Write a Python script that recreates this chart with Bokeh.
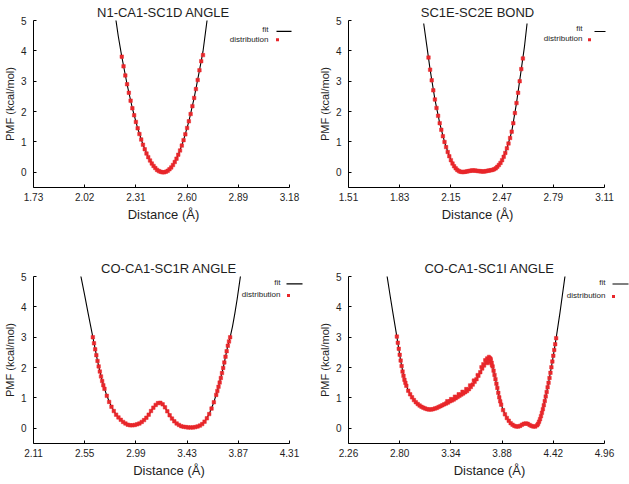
from bokeh.plotting import figure
from bokeh.layouts import column, row
from bokeh.models import Range1d, FixedTicker, Label, BoxAnnotation, PrintfTickFormatter
from bokeh.embed import file_html
from bokeh.resources import INLINE

FONT = "Liberation Sans"
RED = "#e8272b"
INK = "#1e1e1e"

# ---------------- data ----------------
titles = ["N1-CA1-SC1D ANGLE", "SC1E-SC2E BOND", "CO-CA1-SC1R ANGLE", "CO-CA1-SC1I ANGLE"]
x_label = "Distance (Å)"
y_label = "PMF (kcal/mol)"
legend_fit = "fit"
legend_dist = "distribution"
yticks = [0, 1, 2, 3, 4, 5]

xticks1 = [1.73, 2.02, 2.31, 2.60, 2.89, 3.18]
xticks2 = [1.51, 1.83, 2.15, 2.47, 2.79, 3.11]
xticks3 = [2.11, 2.55, 2.99, 3.43, 3.87, 4.31]
xticks4 = [2.26, 2.80, 3.34, 3.88, 4.42, 4.96]

# panel 1
d1_x = [2.23, 2.24, 2.25, 2.26, 2.27, 2.28, 2.29, 2.30, 2.31, 2.32, 2.33, 2.34, 2.35, 2.36, 2.37, 2.38,
        2.39, 2.40, 2.41, 2.42, 2.43, 2.44, 2.45, 2.46, 2.47, 2.48, 2.49, 2.50, 2.51, 2.52, 2.53, 2.54,
        2.55, 2.56, 2.57, 2.58, 2.59, 2.60, 2.61, 2.62, 2.63, 2.64, 2.65, 2.66, 2.67, 2.68, 2.69]
d1_y = [3.81, 3.49, 3.19, 2.90, 2.62, 2.36, 2.11, 1.88, 1.66, 1.45, 1.26, 1.08, 0.91, 0.76, 0.62, 0.50,
        0.39, 0.29, 0.21, 0.14, 0.08, 0.04, 0.02, 0.00, 0.00, 0.02, 0.05, 0.10, 0.16, 0.24, 0.34, 0.45,
        0.58, 0.72, 0.88, 1.06, 1.25, 1.46, 1.68, 1.92, 2.18, 2.45, 2.74, 3.04, 3.36, 3.66, 3.86]
f1_x = [2.196, 2.21, 2.23, 2.26, 2.29, 2.32, 2.35, 2.38, 2.41, 2.44, 2.465, 2.49, 2.52, 2.55, 2.58,
        2.61, 2.64, 2.67, 2.69, 2.714]
f1_y = [5.05, 4.49, 3.81, 2.90, 2.11, 1.45, 0.91, 0.50, 0.21, 0.04, 0.00, 0.05, 0.24, 0.58, 1.06,
        1.68, 2.45, 3.36, 3.98, 5.05]

# panel 2
d2_x = [2.01, 2.02, 2.03, 2.04, 2.05, 2.06, 2.07, 2.08, 2.09, 2.10, 2.11, 2.12, 2.13, 2.14, 2.15,
        2.16, 2.17, 2.18, 2.19, 2.20, 2.21, 2.22, 2.23, 2.24, 2.25, 2.26, 2.27, 2.28, 2.29, 2.30,
        2.31, 2.32, 2.33, 2.34, 2.35, 2.36, 2.37, 2.38, 2.39, 2.40, 2.41, 2.42, 2.43, 2.44, 2.45,
        2.46, 2.47, 2.48, 2.49, 2.50, 2.51, 2.52, 2.53, 2.54, 2.55, 2.56, 2.57, 2.58, 2.59, 2.60]
d2_y = [3.78, 3.38, 3.03, 2.70, 2.40, 2.12, 1.86, 1.62, 1.40, 1.19, 1.00, 0.83, 0.67, 0.53, 0.40,
        0.29, 0.20, 0.13, 0.08, 0.04, 0.02, 0.01, 0.01, 0.02, 0.03, 0.04, 0.05, 0.06, 0.06, 0.06,
        0.05, 0.04, 0.04, 0.03, 0.03, 0.03, 0.04, 0.05, 0.06, 0.07, 0.08, 0.10, 0.13, 0.18, 0.24,
        0.31, 0.40, 0.51, 0.64, 0.79, 0.95, 1.13, 1.34, 1.62, 1.95, 2.28, 2.62, 3.00, 3.40, 3.75]
f2_x = [1.98, 2.00, 2.02, 2.05, 2.08, 2.11, 2.14, 2.17, 2.20, 2.25, 2.30, 2.35, 2.40, 2.44, 2.47,
        2.50, 2.53, 2.56, 2.59, 2.61, 2.626]
f2_y = [4.90, 4.15, 3.38, 2.40, 1.62, 1.00, 0.53, 0.20, 0.04, 0.03, 0.06, 0.03, 0.07, 0.18, 0.40,
        0.79, 1.34, 2.28, 3.40, 4.15, 4.90]

# panel 3
d3_x = [2.62, 2.63, 2.64, 2.65, 2.66, 2.67, 2.68, 2.69, 2.70, 2.71, 2.72, 2.74, 2.76, 2.78, 2.80,
        2.82, 2.84, 2.86, 2.88, 2.90, 2.92, 2.94, 2.96, 2.98, 3.00, 3.02, 3.04, 3.06, 3.08, 3.10,
        3.12, 3.14, 3.16, 3.18, 3.20, 3.22, 3.24, 3.26, 3.28, 3.30, 3.32, 3.34, 3.36, 3.38, 3.40,
        3.42, 3.44, 3.46, 3.48, 3.50, 3.52, 3.54, 3.56, 3.58, 3.60, 3.62, 3.64, 3.66, 3.68, 3.69,
        3.70, 3.71, 3.72, 3.73, 3.74, 3.75, 3.76, 3.77, 3.78, 3.79, 3.80]
d3_y = [3.00, 2.80, 2.60, 2.41, 2.22, 2.04, 1.87, 1.71, 1.56, 1.42, 1.30, 1.07, 0.87, 0.71, 0.57,
        0.45, 0.36, 0.28, 0.21, 0.16, 0.12, 0.10, 0.10, 0.11, 0.13, 0.16, 0.21, 0.27, 0.35, 0.45,
        0.57, 0.68, 0.77, 0.83, 0.84, 0.79, 0.69, 0.56, 0.43, 0.32, 0.23, 0.16, 0.11, 0.07, 0.05,
        0.04, 0.03, 0.03, 0.03, 0.04, 0.06, 0.09, 0.14, 0.22, 0.33, 0.47, 0.65, 0.86, 1.10, 1.23,
        1.37, 1.51, 1.66, 1.82, 1.99, 2.17, 2.36, 2.54, 2.72, 2.86, 3.00]
f3_x = [2.515, 2.55, 2.58, 2.60, 2.62, 2.66, 2.70, 2.74, 2.78, 2.82, 2.86, 2.90, 2.94, 2.98, 3.02,
        3.06, 3.10, 3.14, 3.18, 3.20, 3.22, 3.26, 3.30, 3.34, 3.38, 3.42, 3.46, 3.50, 3.54, 3.58,
        3.62, 3.66, 3.70, 3.74, 3.78, 3.80, 3.82, 3.84, 3.86, 3.89]
f3_y = [5.05, 4.38, 3.78, 3.39, 3.00, 2.22, 1.56, 1.07, 0.71, 0.45, 0.28, 0.16, 0.10, 0.11, 0.16,
        0.27, 0.45, 0.68, 0.83, 0.84, 0.79, 0.56, 0.32, 0.16, 0.07, 0.04, 0.03, 0.04, 0.09, 0.22,
        0.47, 0.86, 1.37, 1.99, 2.72, 3.00, 3.35, 3.78, 4.25, 5.05]

# panel 4
d4_x = [2.77, 2.78, 2.79, 2.80, 2.81, 2.82, 2.83, 2.84, 2.85, 2.86, 2.87, 2.89, 2.91, 2.93, 2.95,
        2.97, 2.99, 3.01, 3.03, 3.05, 3.07, 3.09, 3.11, 3.13, 3.15, 3.17, 3.19, 3.21, 3.23, 3.25,
        3.27, 3.29, 3.31, 3.33, 3.35, 3.37, 3.39, 3.41, 3.43, 3.45, 3.47, 3.49, 3.51, 3.53, 3.55,
        3.57, 3.59, 3.61, 3.63, 3.65, 3.67, 3.69, 3.71, 3.73, 3.75, 3.76, 3.77, 3.78, 3.79, 3.80,
        3.81, 3.82, 3.83, 3.84, 3.85, 3.86, 3.87, 3.89, 3.91, 3.93, 3.95, 3.97, 3.99, 4.01, 4.03,
        4.05, 4.07, 4.09, 4.11, 4.13, 4.15, 4.17, 4.19, 4.21, 4.23, 4.25, 4.26, 4.27, 4.28, 4.29,
        4.30, 4.31, 4.32, 4.33, 4.34, 4.35, 4.36, 4.37, 4.38, 4.39, 4.40, 4.41, 4.42, 4.43, 4.44,
        4.45]
d4_y = [3.02, 2.82, 2.62, 2.42, 2.23, 2.05, 1.87, 1.73, 1.60, 1.50, 1.40, 1.24, 1.12, 1.02, 0.93,
        0.86, 0.80, 0.75, 0.71, 0.68, 0.65, 0.63, 0.62, 0.62, 0.63, 0.65, 0.67, 0.70, 0.73, 0.76,
        0.79, 0.82, 0.85, 0.89, 0.92, 0.95, 0.99, 1.03, 1.07, 1.11, 1.15, 1.19, 1.23, 1.29, 1.36,
        1.44, 1.53, 1.62, 1.73, 1.85, 1.97, 2.07, 2.17, 2.24, 2.27, 2.24, 2.16, 2.04, 1.90, 1.76,
        1.62, 1.47, 1.33, 1.17, 1.02, 0.89, 0.78, 0.60, 0.46, 0.34, 0.25, 0.17, 0.12, 0.08, 0.06,
        0.06, 0.08, 0.12, 0.15, 0.16, 0.15, 0.11, 0.08, 0.06, 0.06, 0.10, 0.15, 0.22, 0.30, 0.40,
        0.51, 0.63, 0.76, 0.90, 1.05, 1.20, 1.35, 1.50, 1.66, 1.83, 2.01, 2.20, 2.39, 2.58, 2.77,
        2.97]
# scattered upper edge of the noisy band in panel 4
d4n_x = [3.30, 3.34, 3.38, 3.42, 3.46, 3.50, 3.54, 3.58, 3.62, 3.66, 3.68, 3.70, 3.72, 3.73, 3.74,
         3.74, 3.75, 3.76, 3.77]
d4n_y = [0.90, 0.97, 1.05, 1.13, 1.21, 1.30, 1.42, 1.58, 1.76, 2.02, 2.12, 2.25, 2.31, 2.14, 2.36,
         2.19, 2.33, 2.30, 2.08]
f4_x = [2.665, 2.70, 2.73, 2.77, 2.81, 2.85, 2.89, 2.95, 3.01, 3.07, 3.13, 3.19, 3.25, 3.31, 3.37,
        3.43, 3.49, 3.55, 3.61, 3.65, 3.69, 3.73, 3.75, 3.77, 3.79, 3.81, 3.85, 3.89, 3.93, 3.97,
        4.01, 4.05, 4.09, 4.13, 4.17, 4.21, 4.25, 4.29, 4.33, 4.37, 4.41, 4.45, 4.49, 4.545]
f4_y = [5.05, 4.35, 3.77, 3.02, 2.23, 1.60, 1.24, 0.93, 0.75, 0.65, 0.62, 0.67, 0.76, 0.85, 0.95,
        1.07, 1.19, 1.36, 1.62, 1.85, 2.07, 2.24, 2.27, 2.16, 1.90, 1.62, 1.02, 0.60, 0.34, 0.17,
        0.08, 0.06, 0.12, 0.16, 0.11, 0.06, 0.10, 0.40, 0.90, 1.50, 2.20, 2.97, 3.80, 5.05]

# ---------------- layout ----------------
AXW = 256      # pixel length of the drawn x axis
FH = 167       # frame height


def panel(title, xticks, fx, fy, dx, dy, fw, borders, leg, extra=None):
    left, right, top, bottom = borders
    span = xticks[-1] - xticks[0]
    p = figure(frame_width=fw, frame_height=FH,
               x_range=Range1d(xticks[0], xticks[0] + span * fw / AXW),
               y_range=Range1d(-0.5, 5.0),
               output_backend="svg", toolbar_location=None,
               min_border_left=left, min_border_right=right,
               min_border_top=top, min_border_bottom=bottom)
    p.outline_line_color = None
    p.xgrid.visible = False
    p.ygrid.visible = False
    p.background_fill_color = "white"
    p.border_fill_color = "white"

    p.title.text = title
    p.title.align = "center"
    p.title.offset = -(fw - AXW) / 2
    p.title.standoff = 2
    p.title.text_font = FONT
    p.title.text_font_size = "13px"
    p.title.text_font_style = "normal"
    p.title.text_color = INK

    for ax in (p.xaxis[0], p.yaxis[0]):
        ax.axis_line_color = "black"
        ax.axis_line_width = 1
        ax.major_tick_in = 3
        ax.major_tick_out = 0
        ax.major_tick_line_color = "black"
        ax.minor_tick_line_color = None
        ax.major_label_text_font = FONT
        ax.major_label_text_font_size = "10px"
        ax.major_label_text_color = INK
        ax.axis_label_text_font = FONT
        ax.axis_label_text_font_style = "normal"
        ax.axis_label_text_color = INK
    p.xaxis.ticker = FixedTicker(ticks=xticks)
    p.xaxis.bounds = (xticks[0], xticks[-1])
    p.xaxis.formatter = PrintfTickFormatter(format="%.2f")
    p.xaxis.major_label_standoff = 5
    p.xaxis.axis_label = x_label
    p.xaxis.axis_label_text_font_size = "13px"
    p.xaxis.axis_label_standoff = 3
    p.yaxis.ticker = FixedTicker(ticks=yticks)
    p.yaxis.major_label_standoff = 7
    p.yaxis.axis_label = y_label
    p.yaxis.axis_label_text_font_size = "11px"
    p.yaxis.axis_label_standoff = 2

    p.line(fx, fy, line_color="black", line_width=1.1)
    p.scatter(dx, dy, marker="square", size=3.5, fill_color=RED, line_color=RED, line_width=0.5)
    if extra is not None:
        p.scatter(extra[0], extra[1], marker="square", size=3, fill_color=RED, line_color=RED,
                  line_width=0.5)

    tr, dyf, dyd, lx0, lx1, dyl, dotx, dydot = leg
    p.add_layout(Label(x=tr, y=FH - dyf, x_units="screen", y_units="screen", text=legend_fit,
                       text_align="right", text_baseline="middle", text_font=FONT,
                       text_font_size="8px", text_color=INK))
    p.add_layout(Label(x=tr, y=FH - dyd, x_units="screen", y_units="screen", text=legend_dist,
                       text_align="right", text_baseline="middle", text_font=FONT,
                       text_font_size="8px", text_color=INK))
    p.add_layout(BoxAnnotation(left=lx0, right=lx1, top=FH - dyl + 0.6, bottom=FH - dyl - 0.6,
                               left_units="screen", right_units="screen",
                               top_units="screen", bottom_units="screen",
                               fill_color="black", fill_alpha=1.0, line_color=None))
    p.add_layout(BoxAnnotation(left=dotx - 1.5, right=dotx + 1.5, top=FH - dydot + 1.5,
                               bottom=FH - dydot - 1.5,
                               left_units="screen", right_units="screen",
                               top_units="screen", bottom_units="screen",
                               fill_color=RED, fill_alpha=1.0, line_color=None))
    return p


p1 = panel(titles[0], xticks1, f1_x, f1_y, d1_x, d1_y, 260, (28, 22, 20, 69),
           (235, 9, 18.5, 243, 258, 10.8, 244, 19.3))
p2 = panel(titles[1], xticks2, f2_x, f2_y, d2_x, d2_y, 258, (31, 21, 20, 69),
           (234, 8.3, 17.7, 246, 257, 11, 241, 19.3))
p3 = panel(titles[2], xticks3, f3_x, f3_y, d3_x, d3_y, 271, (28, 11, 20, 38),
           (247, 5.7, 18, 253, 269, 7.3, 255, 19))
p4 = panel(titles[3], xticks4, f4_x, f4_y, d4_x, d4_y, 282, (27, 1, 20, 38),
           (257, 6, 19, 264, 280, 7.5, 265, 20), extra=(d4n_x, d4n_y))

layout = column(row(p1, p2), row(p3, p4))
open("out.html", "w").write(file_html(layout, INLINE))
